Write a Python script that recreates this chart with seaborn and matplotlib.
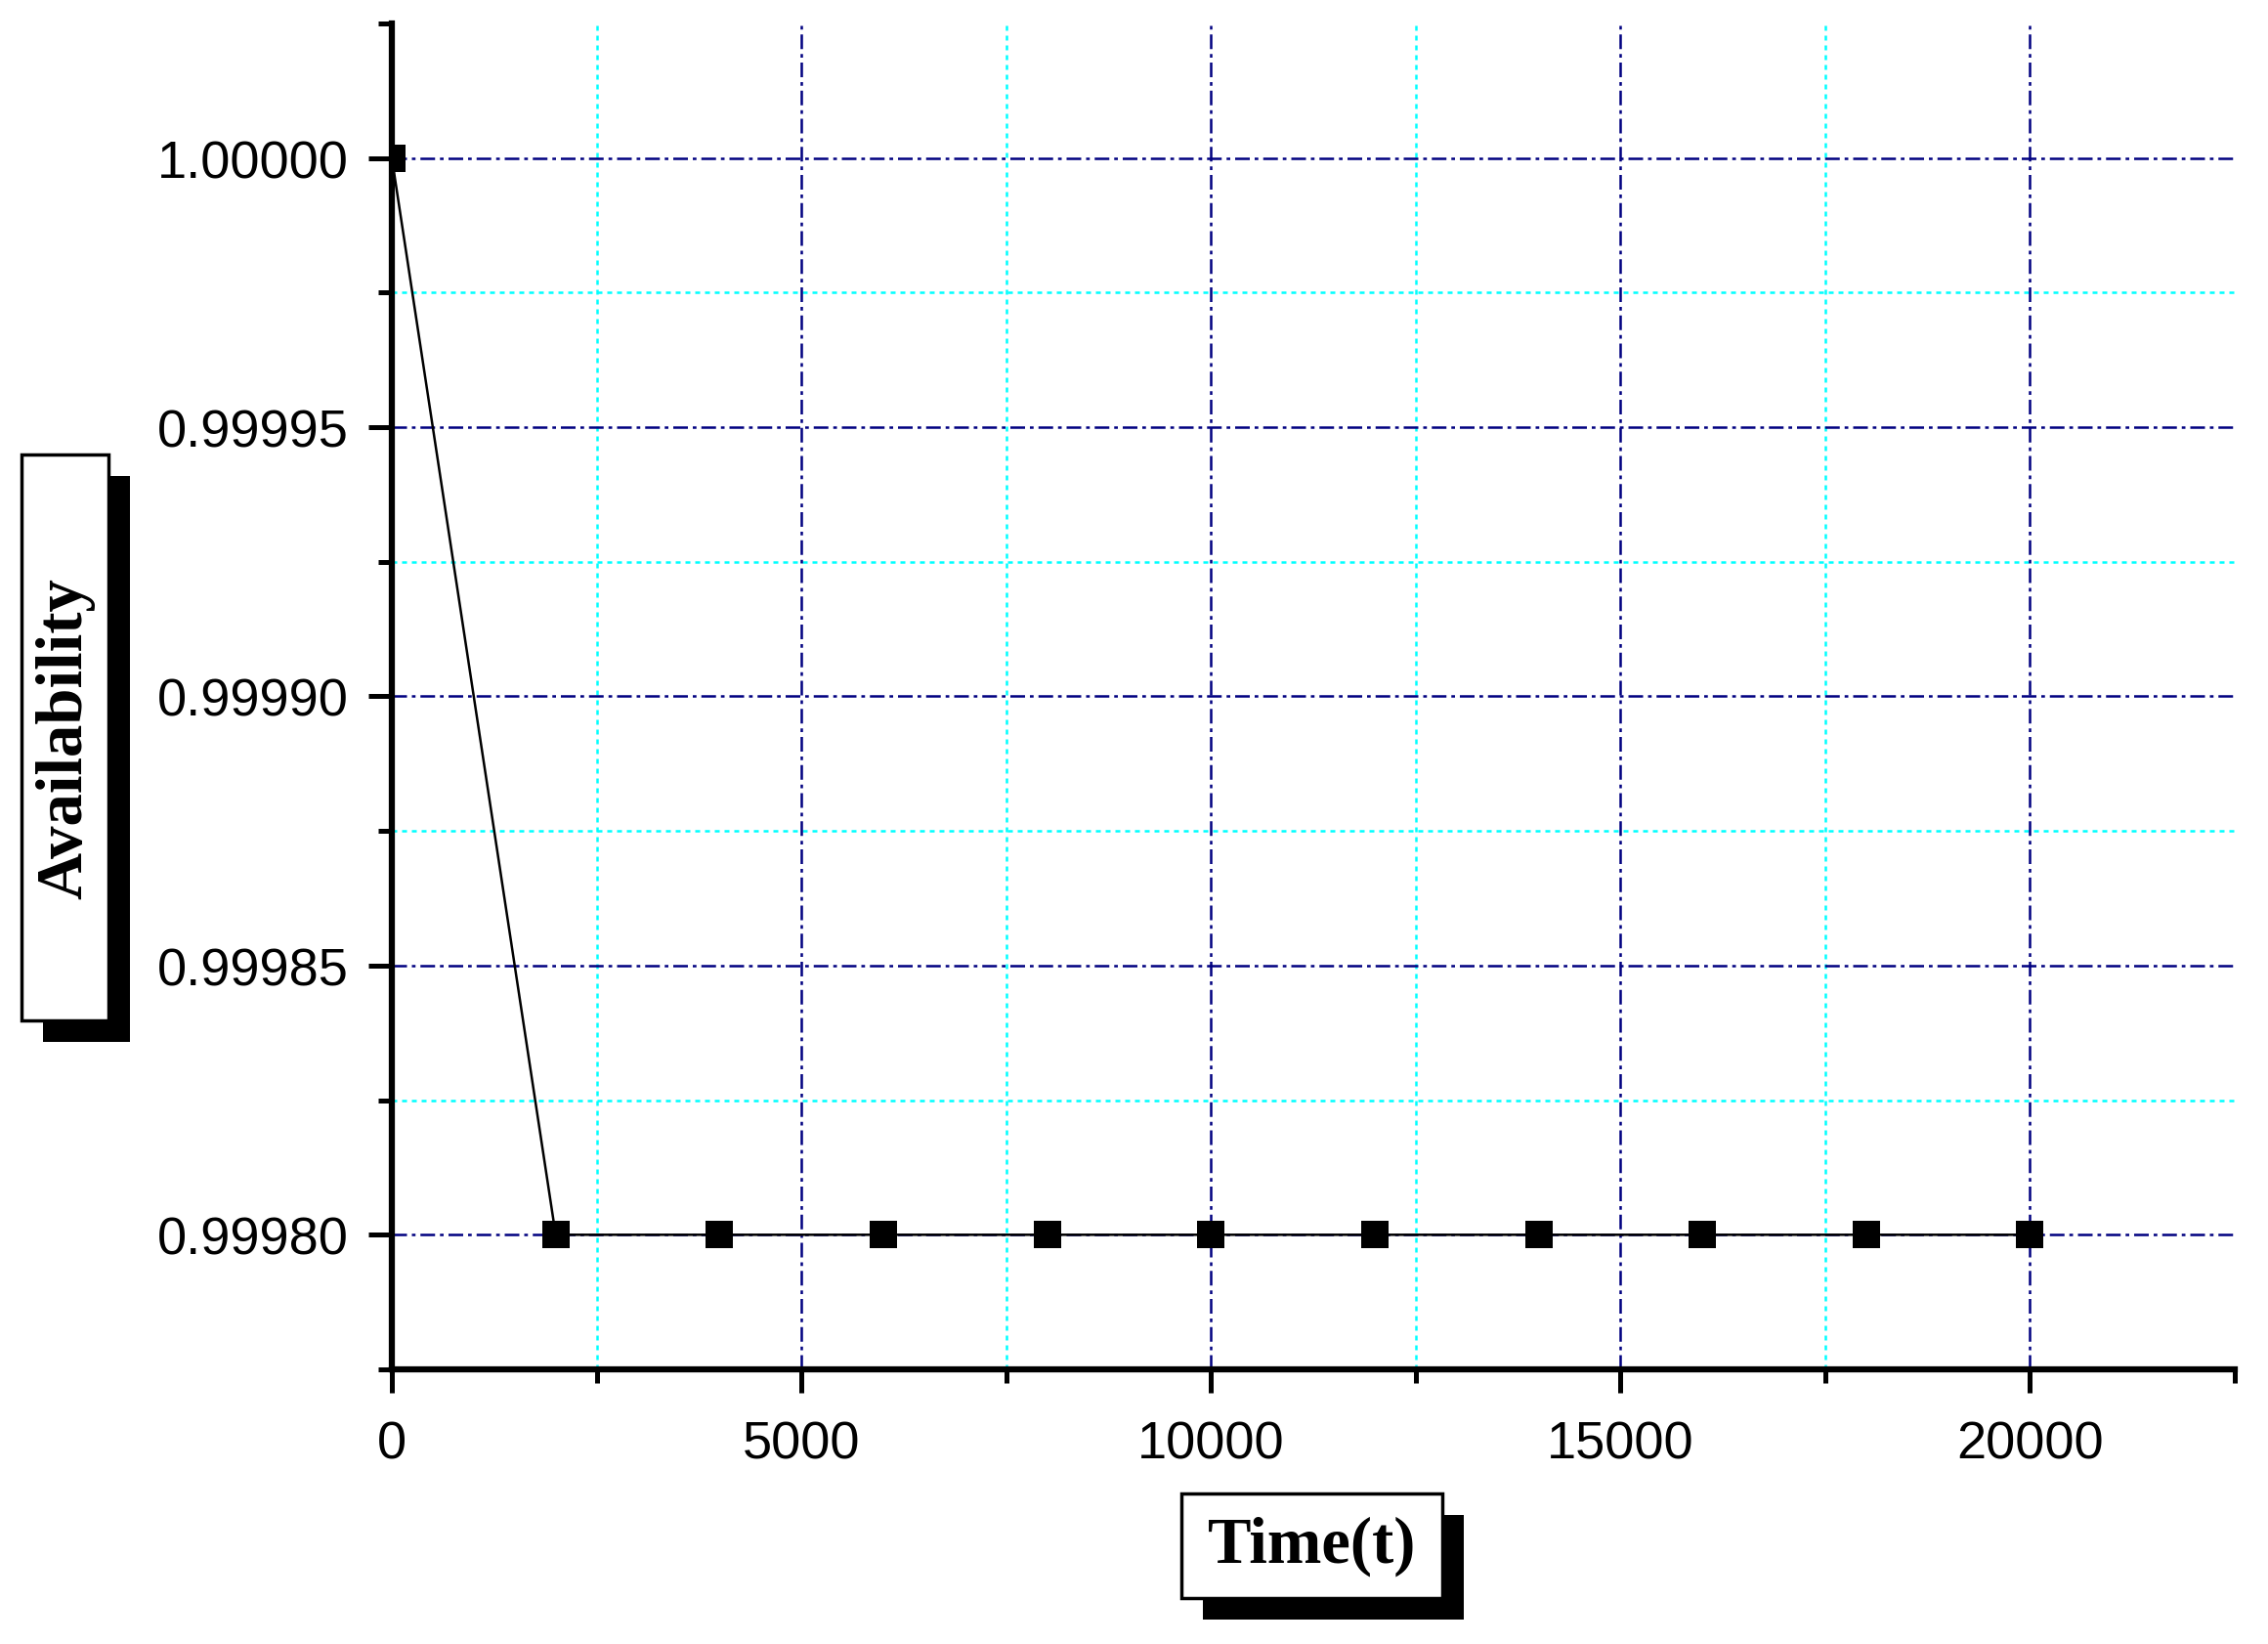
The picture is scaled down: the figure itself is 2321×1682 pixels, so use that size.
import matplotlib
matplotlib.use("Agg")
import matplotlib.pyplot as plt
from matplotlib.ticker import MultipleLocator, FormatStrFormatter
from matplotlib.patches import Rectangle
import seaborn as sns
import pandas as pd

time_t = [0, 2000, 4000, 6000, 8000, 10000, 12000, 14000, 16000, 18000, 20000]
availability = [1.00000, 0.99980, 0.99980, 0.99980, 0.99980, 0.99980,
                0.99980, 0.99980, 0.99980, 0.99980, 0.99980]
x_label = "Time(t)"
y_label = "Availability"
minor_x_grid = [2500, 7500, 12500, 17500]
minor_y_grid = [0.999825, 0.999875, 0.999925, 0.999975]

df = pd.DataFrame({"t": time_t, "A": availability})

sns.set_style("white")
plt.rcParams["font.family"] = ["Liberation Sans", "DejaVu Sans"]
plt.rcParams["text.color"] = "black"
plt.rcParams["xtick.color"] = "black"
plt.rcParams["ytick.color"] = "black"

W, H = 2321, 1683
fig = plt.figure(figsize=(W / 100, H / 100), dpi=100)
ax = fig.add_axes([401 / W, 1 - 1402 / H, (2287 - 401) / W, (1402 - 25) / H])

ax.set_axisbelow(True)
sns.lineplot(data=df, x="t", y="A", ax=ax, color="black", linewidth=1.8,
             marker="s", markersize=20, markeredgewidth=0, markerfacecolor="black")

ax.set_xlim(0, 22500)
ax.set_ylim(0.999775, 1.000025)
ax.xaxis.set_major_locator(MultipleLocator(5000))
ax.xaxis.set_minor_locator(MultipleLocator(2500))
ax.yaxis.set_major_locator(MultipleLocator(0.00005))
ax.yaxis.set_minor_locator(MultipleLocator(0.000025))
ax.yaxis.set_major_formatter(FormatStrFormatter("%.5f"))
ax.xaxis.set_major_formatter(FormatStrFormatter("%d"))

ax.grid(True, which="major", color="#000080", linestyle=(0, (6, 2, 1.5, 2)), linewidth=1.8)
ax.grid(False, which="minor")
for xv in minor_x_grid:
    ax.axvline(xv, color="#00FFFF", linestyle=(0, (2, 2)), linewidth=1.8, zorder=0.5)
for yv in minor_y_grid:
    ax.axhline(yv, color="#00FFFF", linestyle=(0, (2, 2)), linewidth=1.8, zorder=0.5)

for s in ["top", "right"]:
    ax.spines[s].set_visible(False)
for s in ["left", "bottom"]:
    ax.spines[s].set_linewidth(4.5)
    ax.spines[s].set_color("black")

ax.tick_params(which="major", direction="out", length=17, width=3.6, color="black",
               labelcolor="black", labelsize=39, bottom=True, left=True)
ax.tick_params(axis="x", which="major", pad=20)
ax.tick_params(axis="y", which="major", pad=15)
ax.tick_params(which="minor", direction="out", length=10, width=3.6, color="black",
               bottom=True, left=True)
ax.set_xlabel("")
ax.set_ylabel("")

def boxed_label(x0, y0, x1, y1, text, rotation=0, off=22):
    fig.patches.append(Rectangle(((x0 + off) / W, 1 - (y1 + off) / H),
                                 (x1 - x0) / W, (y1 - y0) / H, transform=fig.transFigure,
                                 facecolor="black", edgecolor="black", linewidth=0))
    fig.patches.append(Rectangle((x0 / W, 1 - y1 / H), (x1 - x0) / W, (y1 - y0) / H,
                                 transform=fig.transFigure, facecolor="white",
                                 edgecolor="black", linewidth=2.5))
    fig.text((x0 + x1) / 2 / W, 1 - (y0 + y1) / 2 / H, text, rotation=rotation,
             ha="center", va="center", fontsize=48, fontweight="bold", color="black",
             family=["Liberation Serif", "DejaVu Serif"])

boxed_label(1209, 1529, 1476, 1636, x_label)
boxed_label(22, 466, 111, 1045, y_label, rotation=90)

fig.savefig("out.png", dpi=100)
